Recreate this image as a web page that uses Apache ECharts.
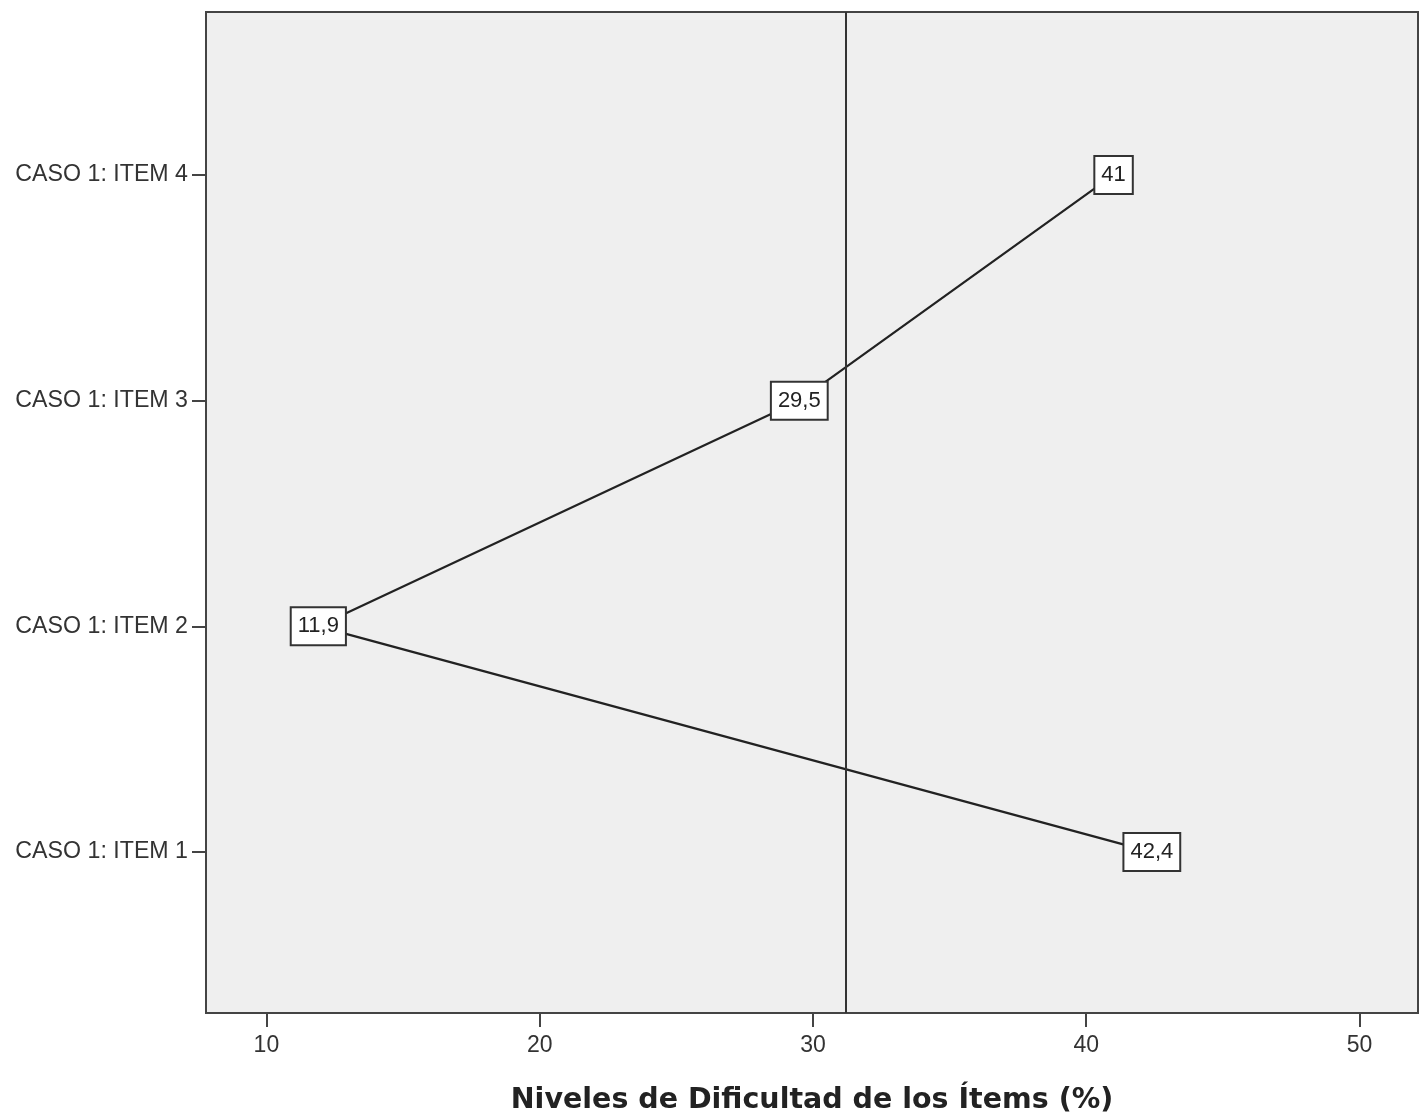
<!DOCTYPE html>
<html>
<head>
<meta charset="utf-8">
<script src="https://cdn.jsdelivr.net/npm/echarts@6/dist/echarts.min.js"></script>
<style>
html,body{margin:0;padding:0;background:#fff;}
#chart{width:1419px;height:1117px;}
</style>
</head>
<body>
<div id="chart"></div>
<script>
const categories = ['CASO 1: ITEM 1', 'CASO 1: ITEM 2', 'CASO 1: ITEM 3', 'CASO 1: ITEM 4'];
const values = [42.4, 11.9, 29.5, 41];
const xTicks = [10, 20, 30, 40, 50];
const yTicks = [1, 2, 3, 4];
const meanValue = 31.2;
const xTitle = 'Niveles de Dificultad de los Ítems (%)';

const chart = echarts.init(document.getElementById('chart'));
const fmt = v => String(v).replace('.', ',');
const seriesData = values.map((v, i) => [v, i + 1]);

chart.setOption({
  animation: false,
  backgroundColor: '#fff',
  grid: {
    left: 206, right: 1, top: 12, bottom: 104,
    outerBoundsMode: 'none', containLabel: false,
    show: true, backgroundColor: '#efefef', borderColor: '#444', borderWidth: 2
  },
  xAxis: {
    type: 'value', min: 7.79, max: 52.14,
    name: xTitle, nameLocation: 'middle', nameGap: 73,
    nameTextStyle: { fontFamily: 'DejaVu Sans', fontWeight: 'bold', fontSize: 28.5, color: '#222' },
    axisLine: { show: true, lineStyle: { color: '#444', width: 2 } },
    axisTick: { show: true, length: 14, lineStyle: { color: '#444', width: 2 }, customValues: xTicks },
    axisLabel: { fontFamily: 'Liberation Sans, Arial', fontSize: 23, color: '#333', margin: 21, customValues: xTicks },
    splitLine: { show: false }
  },
  yAxis: {
    type: 'value', min: 0.287, max: 4.722,
    axisLine: { show: true, lineStyle: { color: '#444', width: 2 } },
    axisTick: { show: true, length: 14, lineStyle: { color: '#444', width: 2 }, customValues: yTicks },
    axisLabel: {
      fontFamily: 'Liberation Sans, Arial', fontSize: 23.2, color: '#333', margin: 18,
      customValues: yTicks,
      formatter: v => categories[Math.round(v) - 1] || ''
    },
    splitLine: { show: false }
  },
  series: [{
    type: 'line',
    data: seriesData,
    symbol: 'rect',
    symbolSize: 1,
    itemStyle: { color: '#222' },
    lineStyle: { color: '#222', width: 2.2 },
    label: {
      show: true, position: 'inside',
      formatter: p => fmt(p.value[0]),
      fontFamily: 'Liberation Sans, Arial', fontSize: 22, color: '#222',
      backgroundColor: '#fff', borderColor: '#333', borderWidth: 2,
      padding: [8, 6, 6, 6]
    },
    markLine: {
      silent: true, symbol: 'none', label: { show: false },
      lineStyle: { color: '#333', width: 2, type: 'solid' },
      data: [{ xAxis: meanValue }]
    },
    z: 3
  }]
});
</script>
</body>
</html>
